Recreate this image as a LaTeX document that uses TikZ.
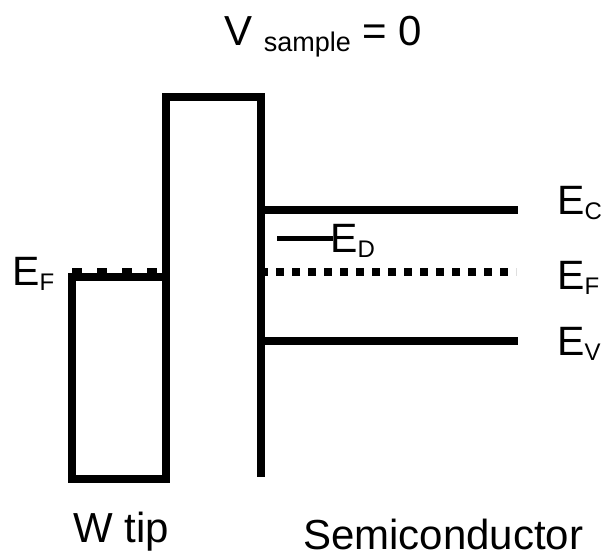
\documentclass[tikz,border=0pt]{standalone}
\usepackage{fontspec}
\setmainfont{Liberation Sans}
\begin{document}
\begin{tikzpicture}[x=1pt,y=-1pt,
  band/.style={line width=8pt},
  wall/.style={line width=8pt, line join=miter},
  lbl/.style={anchor=base west, inner sep=0pt},
  elbl/.style={anchor=base west, inner sep=0pt, font=\fontsize{41}{41}\selectfont}]
\newcommand{\subsc}[1]{\raisebox{-5pt}{\fontsize{24}{24}\selectfont #1}}
\useasboundingbox (0,0) rectangle (602,559);
% coordinates
\coordinate (tipTL) at (72,277);
\coordinate (tipBL) at (72,479);
\coordinate (barBL) at (166,479);
\coordinate (barTL) at (166,97);
\coordinate (barTR) at (261,97);
\coordinate (barBR) at (261,477);
\coordinate (ecL) at (261,210);
\coordinate (ecR) at (518,210);
\coordinate (evL) at (261,341);
\coordinate (evR) at (518,341);
\coordinate (efL) at (260,272);
\coordinate (efR) at (516,272);
\coordinate (edL) at (277,238);
\coordinate (edR) at (333,238);
\coordinate (tfL) at (72,272);
\coordinate (tfR) at (166,272);
% tip Fermi dots
\draw[line width=8pt, dash pattern=on 10pt off 15pt] (tfL) -- (tfR);
% W tip box and barrier
\draw[wall] (166,277) -- (tipTL) -- (tipBL) -- (barBL) -- (barTL) -- (barTR) -- (barBR);
% semiconductor bands
\draw[band] (ecL) -- (ecR);
\draw[band] (evL) -- (evR);
\draw[line width=8pt, dash pattern=on 8pt off 8pt] (efL) -- (efR);
\draw[line width=5pt] (edL) -- (edR);
% labels
\node[lbl] (vs) at (224,46) {\fontsize{42}{42}\selectfont V \raisebox{-6pt}{\fontsize{27}{27}\selectfont sample} = 0};
\node[elbl] (efl) at (12,285) {E\subsc{F}};
\node[elbl] (ec) at (557,214) {E\subsc{C}};
\node[elbl] (efr) at (557,289) {E\subsc{F}};
\node[elbl] (ev) at (557,355) {E\subsc{V}};
\node[elbl] (ed) at (330,252) {E\subsc{D}};
\node[lbl] (wtip) at (73,542) {\fontsize{42}{42}\selectfont W tip};
\node[lbl] (semi) at (303,549) {\fontsize{42}{42}\selectfont Semiconductor};
\end{tikzpicture}
\end{document}
